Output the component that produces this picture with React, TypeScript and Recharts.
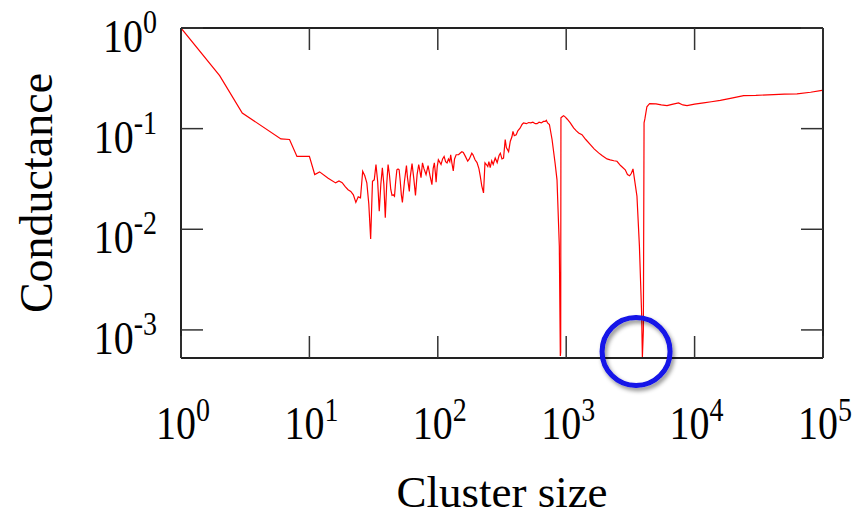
import React from "react";
import { LineChart, Line, XAxis, YAxis, ReferenceDot, Label } from "recharts";

const clusterSize: number[] = [
  1, 2, 3, 6, 7, 8, 10, 11, 12, 14, 16, 17, 18, 19, 20, 21, 22, 23, 24, 25,
  26, 27, 28, 29, 30, 31, 32, 33, 34, 35, 36, 37, 38, 39, 40, 41, 42, 43, 44, 45,
  46, 47, 48, 49, 50, 51, 52, 53, 55, 57, 58, 60, 61, 63, 65, 67, 69, 71, 72, 74,
  76, 78, 81, 84, 87, 90, 92, 94, 96, 97, 99, 101, 103, 106, 109, 112, 115, 118, 121, 124,
  126, 129, 132, 135, 139, 145, 149, 154, 158, 164, 171, 176, 184, 188, 195, 202, 209, 214, 220, 227,
  233, 239, 245, 250, 256, 263, 270, 280, 290, 300, 307, 316, 325, 335, 342, 356, 367, 378, 385, 394,
  408, 420, 437, 453, 465, 490, 510, 530, 550, 575, 593, 615, 640, 665, 687, 700, 716, 740, 776, 820,
  848, 884, 900, 906, 910, 935, 955, 985, 1020, 1076, 1142, 1200, 1250, 1327, 1420, 1542, 1650, 1788, 1900, 2078,
  2200, 2350, 2486, 2650, 2883, 3000, 3118, 3220, 3313, 3557, 3717, 3865, 3920, 3990, 4040, 4100, 4250, 4390, 4465, 5000,
  5500, 6095, 6800, 7500, 8100, 8730, 10000, 11750, 13500, 15850, 19000, 24100, 30000, 41200, 50000, 62700, 80000, 98200, 100000,
];

const conductance: number[] = [
  1.0, 0.336, 0.143, 0.079, 0.078, 0.053, 0.053, 0.035, 0.0372, 0.0322, 0.0289, 0.0302, 0.029, 0.0265, 0.0247, 0.0238, 0.022, 0.0185, 0.021, 0.0205,
  0.0377, 0.034, 0.029, 0.018, 0.008, 0.03, 0.031, 0.044, 0.03, 0.0151, 0.028, 0.0408, 0.028, 0.013, 0.028, 0.044, 0.035, 0.025, 0.0217, 0.022,
  0.0213, 0.03, 0.039, 0.0397, 0.039, 0.03, 0.022, 0.0185, 0.03, 0.0429, 0.033, 0.0238, 0.033, 0.0449, 0.032, 0.0217, 0.035, 0.044, 0.04, 0.0326,
  0.0457, 0.04, 0.035, 0.0429, 0.034, 0.0278, 0.04, 0.0457, 0.035, 0.0294, 0.042, 0.049, 0.047, 0.044, 0.05, 0.053, 0.047, 0.0457, 0.05, 0.047,
  0.055, 0.045, 0.038, 0.05, 0.055, 0.055, 0.057, 0.059, 0.058, 0.053, 0.0475, 0.05, 0.057, 0.055, 0.049, 0.046, 0.04, 0.034, 0.027, 0.023,
  0.0457, 0.044, 0.042, 0.047, 0.041, 0.048, 0.044, 0.051, 0.046, 0.054, 0.057, 0.05, 0.051, 0.078, 0.065, 0.059, 0.075, 0.083, 0.094, 0.085,
  0.087, 0.095, 0.101, 0.11, 0.114, 0.112, 0.115, 0.114, 0.116, 0.112, 0.112, 0.116, 0.114, 0.118, 0.118, 0.121, 0.114, 0.11, 0.078, 0.045,
  0.031, 0.0068, 0.00055, 0.0006, 0.128, 0.132, 0.1346, 0.13, 0.124, 0.114, 0.1016, 0.095, 0.0906, 0.087, 0.078, 0.0693, 0.063, 0.0574, 0.054, 0.05,
  0.049, 0.048, 0.0474, 0.043, 0.039, 0.035, 0.034, 0.036, 0.0398, 0.0213, 0.0068, 0.0015, 0.00053, 0.001, 0.114, 0.125, 0.165, 0.173, 0.177, 0.176,
  0.172, 0.169, 0.175, 0.18, 0.172, 0.169, 0.175, 0.18, 0.185, 0.191, 0.2, 0.213, 0.214, 0.218, 0.22, 0.222, 0.23, 0.24, 0.24,
];

const xTicks: number[] = [1, 10, 100, 1000, 10000, 100000];
const yTicks: number[] = [0.001, 0.01, 0.1, 1];

const xDomain: [number, number] = [1, 100000];
const yDomain: [number, number] = [0.000526, 1];

const highlightX = 3500;
const highlightY = 0.00061;

const data = clusterSize.map((x, i) => ({ x, y: conductance[i] }));

const FONT = "'Liberation Serif', 'Times New Roman', serif";
const TICK_LEN = 22;
const TICK_COLOR = "#333";
const STRETCH = 1.18;

const expOf = (v: number) => String(Math.round(Math.log10(v)));

const PowerLabel = ({ tx, ty, anchor, exp, raise }: any) => (
  <text
    x={0}
    y={0}
    transform={`translate(${tx},${ty}) scale(1,${STRETCH})`}
    textAnchor={anchor}
    fontFamily={FONT}
    fontSize={40}
    fill="#000"
  >
    <tspan>10</tspan>
    <tspan dy={-raise / STRETCH} fontSize={28}>{exp}</tspan>
  </text>
);

const BottomTick = (props: any) => {
  const { x, y, payload } = props;
  return (
    <g>
      <line x1={x} y1={y} x2={x} y2={y - TICK_LEN} stroke={TICK_COLOR} strokeWidth={1.5} />
      <PowerLabel tx={x + 2} ty={y + 81} anchor="middle" exp={expOf(payload.value)} raise={18} />
    </g>
  );
};

const TopTick = (props: any) => {
  const { x, y } = props;
  return <line x1={x} y1={y} x2={x} y2={y + TICK_LEN} stroke={TICK_COLOR} strokeWidth={1.5} />;
};

const LeftTick = (props: any) => {
  const { x, y, payload } = props;
  return (
    <g>
      <line x1={x} y1={y} x2={x + TICK_LEN} y2={y} stroke={TICK_COLOR} strokeWidth={1.5} />
      <PowerLabel tx={x - 24} ty={y + 24} anchor="end" exp={expOf(payload.value)} raise={19} />
    </g>
  );
};

const RightTick = (props: any) => {
  const { x, y } = props;
  return <line x1={x} y1={y} x2={x - TICK_LEN} y2={y} stroke={TICK_COLOR} strokeWidth={1.5} />;
};

const XLabel = (props: any) => {
  const vb = props.viewBox;
  return (
    <text x={vb.x + vb.width / 2} y={vb.y + vb.height + 119} textAnchor="middle" fontFamily={FONT} fontSize={45} fill="#000">
      Cluster size
    </text>
  );
};

const YLabel = (props: any) => {
  const vb = props.viewBox;
  const cx = vb.x + vb.width - 129;
  const cy = vb.y + vb.height / 2;
  return (
    <text
      x={cx}
      y={cy}
      textAnchor="middle"
      fontFamily={FONT}
      fontSize={46}
      fill="#000"
      transform={`rotate(-90, ${cx}, ${cy})`}
    >
      Conductance
    </text>
  );
};

const Ring = (props: any) => {
  const { cx, cy, r } = props;
  return (
    <g>
      <defs>
        <filter id="ringShadow" x="-50%" y="-50%" width="200%" height="200%">
          <feDropShadow dx="2" dy="3" stdDeviation="2" floodColor="#000" floodOpacity="0.45" />
        </filter>
      </defs>
      <circle cx={cx} cy={cy} r={r} fill="none" stroke="#1212e8" strokeWidth={5} filter="url(#ringShadow)" />
    </g>
  );
};

export default function App() {
  return (
    <div style={{ position: "absolute", left: 0, top: 0, background: "#fff" }}>
      <LineChart
        width={868}
        height={517}
        data={data}
        margin={{ top: 18, right: 35, bottom: 129, left: 121 }}
      >
        <XAxis
          xAxisId="b"
          dataKey="x"
          type="number"
          scale="log"
          domain={xDomain}
          allowDataOverflow
          ticks={xTicks}
          interval={0}
          height={30}
          tickSize={0}
          tickMargin={0}
          tickLine={false}
          tick={BottomTick}
          axisLine={{ stroke: "#222", strokeWidth: 2 }}
        >
          <Label content={XLabel} />
        </XAxis>
        <XAxis
          xAxisId="t"
          orientation="top"
          dataKey="x"
          type="number"
          scale="log"
          domain={xDomain}
          allowDataOverflow
          ticks={xTicks}
          interval={0}
          height={10}
          tickSize={0}
          tickMargin={0}
          tickLine={false}
          tick={TopTick}
          axisLine={{ stroke: "#222", strokeWidth: 2 }}
        />
        <YAxis
          yAxisId="l"
          type="number"
          scale="log"
          domain={yDomain}
          allowDataOverflow
          ticks={yTicks}
          interval={0}
          width={60}
          tickSize={0}
          tickMargin={0}
          tickLine={false}
          tick={LeftTick}
          axisLine={{ stroke: "#222", strokeWidth: 2 }}
        >
          <Label content={YLabel} />
        </YAxis>
        <YAxis
          yAxisId="r"
          orientation="right"
          type="number"
          scale="log"
          domain={yDomain}
          allowDataOverflow
          ticks={yTicks}
          interval={0}
          width={10}
          tickSize={0}
          tickMargin={0}
          tickLine={false}
          tick={RightTick}
          axisLine={{ stroke: "#222", strokeWidth: 2 }}
        />
        <Line
          xAxisId="b"
          yAxisId="l"
          type="linear"
          dataKey="y"
          stroke="#ff0000"
          strokeWidth={1.2}
          dot={false}
          isAnimationActive={false}
        />
        <ReferenceDot
          xAxisId="b"
          yAxisId="l"
          x={highlightX}
          y={highlightY}
          r={34}
          ifOverflow="visible"
          shape={Ring}
        />
      </LineChart>
    </div>
  );
}
